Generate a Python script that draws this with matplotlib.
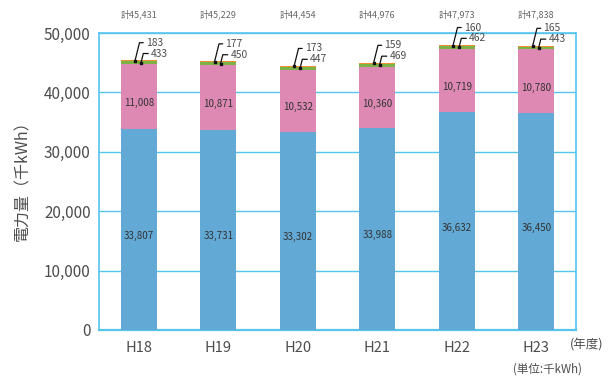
import numpy as np
import matplotlib.pyplot as plt

plt.rcParams['font.family'] = ['Noto Sans CJK JP', 'DejaVu Sans']

# 年度別の電力量（千kWh）
years = ["H18", "H19", "H20", "H21", "H22", "H23"]
blue_vals = [33807, 33731, 33302, 33988, 36632, 36450]
pink_vals = [11008, 10871, 10532, 10360, 10719, 10780]
green_vals = [433, 450, 447, 469, 462, 443]
orange_vals = [183, 177, 173, 159, 160, 165]
totals = [45431, 45229, 44454, 44976, 47973, 47838]

c_blue = "#62a9d5"
c_pink = "#dd89b4"
c_green = "#7bb347"
c_orange = "#ee922f"
c_frame = "#55c5ee"
c_text = "#4d4d4d"

x = np.arange(len(years))
blue = np.array(blue_vals)
pink = np.array(pink_vals)
green = np.array(green_vals)
orange = np.array(orange_vals)
w = 0.45

fig = plt.figure(figsize=(6.08, 3.79), dpi=100)
ax = fig.add_axes([99 / 608, 49 / 379, 477 / 608, 297 / 379])

ax.bar(x, blue, w, color=c_blue, zorder=3)
ax.bar(x, pink, w, bottom=blue, color=c_pink, zorder=3)
ax.bar(x, green, w, bottom=blue + pink, color=c_green, zorder=3)
ax.bar(x, orange, w, bottom=blue + pink + green, color=c_orange, zorder=3)

# 棒の中の数値
for i in range(len(years)):
    ax.text(x[i], blue[i] * 0.47, f"{blue[i]:,}", ha="center", va="center",
            fontsize=7, color="#333333", zorder=4)
    ax.text(x[i], blue[i] + pink[i] * 0.4, f"{pink[i]:,}", ha="center", va="center",
            fontsize=7, color="#333333", zorder=4)

# 小さい値は引き出し線で表示
arrow = dict(arrowstyle="-", color="#111111", lw=0.9, relpos=(0, 0.5),
             shrinkA=0, shrinkB=0, connectionstyle="angle,angleA=0,angleB=76,rad=0")
for i in range(len(years)):
    y_o = blue[i] + pink[i] + green[i] + orange[i] * 0.5
    y_g = blue[i] + pink[i] + green[i] * 0.5
    xo = x[i] - 0.047
    xg = x[i] + 0.029
    ax.scatter([xo, xg], [y_o, y_g], s=3, marker="s", color="#111111", zorder=6,
               clip_on=False)
    ax.annotate(f"{orange[i]}", xy=(xo, y_o), xytext=(11, 18), textcoords="offset pixels",
                ha="left", va="center", fontsize=7.4, color=c_text, arrowprops=arrow,
                annotation_clip=False, zorder=6)
    ax.annotate(f"{green[i]}", xy=(xg, y_g), xytext=(10, 9), textcoords="offset pixels",
                ha="left", va="center", fontsize=7.4, color=c_text, arrowprops=arrow,
                annotation_clip=False, zorder=6)
    ax.text(x[i], 1.063, f"計{totals[i]:,}", transform=ax.get_xaxis_transform(),
            ha="center", va="center", fontsize=6.5, color="#666666")

ax.set_xlim(-0.5, len(years) - 0.5)
ax.set_ylim(0, 50000)
ax.set_yticks(np.arange(0, 50001, 10000))
ax.set_yticklabels([f"{v:,}" for v in range(0, 50001, 10000)])
ax.set_xticks(x)
ax.set_xticklabels(years)
ax.tick_params(length=0, labelsize=10.5, labelcolor=c_text)
ax.tick_params(axis="y", pad=6, labelsize=11)
ax.tick_params(axis="x", pad=8)

ax.grid(axis="y", color=c_frame, lw=1.0, zorder=0)
for s in ax.spines.values():
    s.set_color(c_frame)
    s.set_linewidth(1.2)
ax.spines["bottom"].set_linewidth(1.6)

fig.text(23 / 608, 1 - 177 / 379, "電力量（千kWh）", rotation=90, ha="center", va="center",
         fontsize=11.5, color=c_text)
fig.text(587 / 608, 1 - 345 / 379, "(年度)", ha="center", va="center",
         fontsize=9, color=c_text)
fig.text(547 / 608, 1 - 369 / 379, "(単位:千kWh)", ha="center", va="center",
         fontsize=8.3, color=c_text)

fig.savefig("out.png", dpi=100)
